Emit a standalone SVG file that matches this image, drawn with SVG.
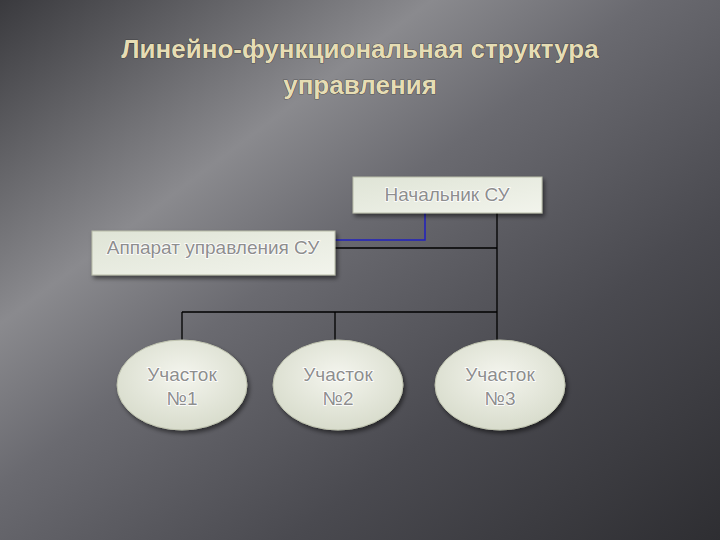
<svg xmlns="http://www.w3.org/2000/svg" width="720" height="540" viewBox="0 0 720 540">
<defs>
<linearGradient id="bg" x1="0" y1="0" x2="1" y2="1">
<stop offset="0" stop-color="#3a3a3e"/>
<stop offset="0.3" stop-color="#8a8a8e"/>
<stop offset="0.45" stop-color="#6a6a70"/>
<stop offset="0.7" stop-color="#4a4a50"/>
<stop offset="1" stop-color="#2e2e32"/>
</linearGradient>
<linearGradient id="box" x1="0" y1="0" x2="1" y2="1">
<stop offset="0" stop-color="#dfe4d6"/>
<stop offset="1" stop-color="#f2f4ec"/>
</linearGradient>
<radialGradient id="ell" cx="0.5" cy="0.4" r="0.6">
<stop offset="0" stop-color="#f4f5ee"/>
<stop offset="1" stop-color="#d8dccc"/>
</radialGradient>
<filter id="sh" x="-10%" y="-10%" width="130%" height="140%"><feDropShadow dx="2" dy="3" stdDeviation="2" flood-color="#000" flood-opacity="0.5"/></filter>
</defs>
<style>
.t{font-family:"Liberation Sans",Arial,sans-serif;font-weight:bold;fill:#e6ddb4;font-size:26px;text-anchor:middle;stroke:#2a2a2a;stroke-width:0.7;paint-order:stroke}
.n{font-family:"Liberation Sans",Arial,sans-serif;fill:#8e8e8e;font-size:19px;text-anchor:middle;stroke:#ffffff;stroke-width:1.5;paint-order:stroke}
.bx{fill:url(#box);stroke:#b8bca8;stroke-width:1;filter:url(#sh)}
.el{fill:url(#ell);stroke:#c0c4b0;stroke-width:1;filter:url(#sh)}
.c{fill:none;stroke:#000;stroke-width:1.3}
</style>
<rect width="720" height="540" fill="url(#bg)"/>
<text class="t" x="360" y="58">Линейно-функциональная структура</text>
<text class="t" x="360" y="94">управления</text>
<g id="connectors">
<polyline points="335,240 425,240 425,213" fill="none" stroke="#2020c0" stroke-width="1.5"/>
<line class="c" x1="497" y1="213" x2="497" y2="312"/>
<line class="c" x1="335" y1="248" x2="497" y2="248"/>
<line class="c" x1="182" y1="312" x2="497" y2="312"/>
<line class="c" x1="182" y1="312" x2="182" y2="345"/>
<line class="c" x1="335" y1="312" x2="335" y2="345"/>
<line class="c" x1="497" y1="312" x2="497" y2="345"/>
</g>
<g id="head"><rect class="bx" x="353" y="177" width="189" height="36"/><text class="n" x="447" y="201">Начальник СУ</text></g>
<g id="apparat"><rect class="bx" x="92" y="231" width="243" height="44"/><text class="n" x="213" y="254">Аппарат управления СУ</text></g>
<g id="u1"><ellipse class="el" cx="182" cy="385" rx="65" ry="45"/><text class="n" x="182" y="381">Участок</text><text class="n" x="182" y="405">№1</text></g>
<g id="u2"><ellipse class="el" cx="338" cy="385" rx="65" ry="45"/><text class="n" x="338" y="381">Участок</text><text class="n" x="338" y="405">№2</text></g>
<g id="u3"><ellipse class="el" cx="500" cy="385" rx="65" ry="45"/><text class="n" x="500" y="381">Участок</text><text class="n" x="500" y="405">№3</text></g>
</svg>
